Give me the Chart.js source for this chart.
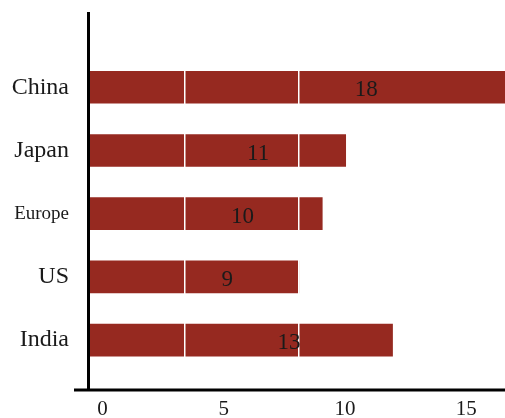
<!DOCTYPE html>
<html>
<head>
<meta charset="utf-8">
<script src="https://cdn.jsdelivr.net/npm/chart.js@4/dist/chart.umd.min.js"></script>
<style>
  body { margin: 0; background: #fff; }
  canvas { display: block; }
</style>
</head>
<body>
<canvas id="grafico" width="505" height="418"></canvas>
<script>
// Datos del gráfico
const categorias = ['China', 'Japan', 'Europe', 'US', 'India'];
const valores = [18, 11, 10, 9, 13];
const valoresTicks = [0, 5, 10, 15];
const etiquetasTicks = ['0', '5', '10', '15'];
const lineasGuia = [4.15, 9];

const colorBarra = '#962920';
const fuente = "'Liberation Serif', 'Times New Roman', serif";

// Quitar el relleno automático que Chart.js reserva para las etiquetas
function sinRelleno(scale) {
    scale.paddingTop = 0;
    scale.paddingBottom = 0;
    scale.paddingLeft = 0;
    scale.paddingRight = 0;
}

// Etiquetas de valor dentro de cada barra
const etiquetasValor = {
    id: 'etiquetasValor',
    afterDraw(chart) {
        const ctx = chart.ctx;
        const x = chart.scales.x;
        const y = chart.scales.y;
        ctx.save();
        ctx.fillStyle = '#1a1a1a';
        ctx.font = '23px ' + fuente;
        ctx.textAlign = 'center';
        ctx.textBaseline = 'middle';
        valores.forEach((v, i) => {
            ctx.fillText(String(v), x.getPixelForValue(v * 0.66), y.getPixelForValue(i) + 3);
        });
        ctx.restore();
    }
};

// Línea del eje inferior (sobresale un poco a la izquierda)
const ejeInferior = {
    id: 'ejeInferior',
    afterDraw(chart) {
        const a = chart.chartArea;
        const ctx = chart.ctx;
        ctx.save();
        ctx.strokeStyle = '#000';
        ctx.lineWidth = 3;
        ctx.beginPath();
        ctx.moveTo(a.left - 14, a.bottom);
        ctx.lineTo(a.right, a.bottom);
        ctx.stroke();
        ctx.restore();
    }
};

new Chart(document.getElementById('grafico').getContext('2d'), {
    type: 'bar',
    data: {
        datasets: [{
            data: valores.map((v, i) => ({ x: v, y: i })),
            backgroundColor: colorBarra,
            borderWidth: 0,
            barThickness: 32,
            xAxisID: 'x',
            yAxisID: 'y'
        }]
    },
    options: {
        indexAxis: 'y',
        responsive: false,
        animation: false,
        layout: { padding: { top: 13, right: 0, left: 0, bottom: 0 }, autoPadding: false },
        plugins: {
            legend: { display: false },
            tooltip: { enabled: false }
        },
        scales: {
            x: {
                type: 'linear',
                position: 'top',
                offset: false,
                min: 0,
                max: 17.8,
                afterBuildTicks: (scale) => { scale.ticks = lineasGuia.map(v => ({ value: v })); },
                afterFit: (scale) => { scale.height = 0; sinRelleno(scale); },
                ticks: { display: false, padding: 0 },
                border: { display: false },
                grid: { color: '#ffffff', lineWidth: 1.5, drawTicks: false, tickLength: 0, z: 1, offset: false }
            },
            xt: {
                type: 'linear',
                position: 'bottom',
                offset: false,
                min: -0.6,
                max: 16.6,
                afterBuildTicks: (scale) => { scale.ticks = valoresTicks.map(v => ({ value: v })); },
                afterFit: (scale) => { scale.height = 28; sinRelleno(scale); },
                ticks: {
                    autoSkip: false,
                    maxRotation: 0,
                    padding: 7,
                    color: '#1a1a1a',
                    font: { family: fuente, size: 21 },
                    callback: (v, i) => etiquetasTicks[i]
                },
                border: { display: false },
                grid: { display: false, drawTicks: false, tickLength: 0 }
            },
            y: {
                type: 'linear',
                reverse: true,
                offset: false,
                min: -1.175,
                max: 4.79,
                afterBuildTicks: (scale) => { scale.ticks = categorias.map((c, i) => ({ value: i })); },
                afterFit: (scale) => { scale.width = 88; sinRelleno(scale); },
                ticks: {
                    autoSkip: false,
                    padding: 19,
                    color: '#1a1a1a',
                    font: (c) => ({ family: fuente, size: c.index === 2 ? 19 : 24 }),
                    callback: (v) => categorias[v]
                },
                border: { display: true, color: '#000', width: 3, z: 1 },
                grid: { display: false, drawTicks: false, tickLength: 0, offset: false }
            }
        }
    },
    plugins: [etiquetasValor, ejeInferior]
});
</script>
</body>
</html>
